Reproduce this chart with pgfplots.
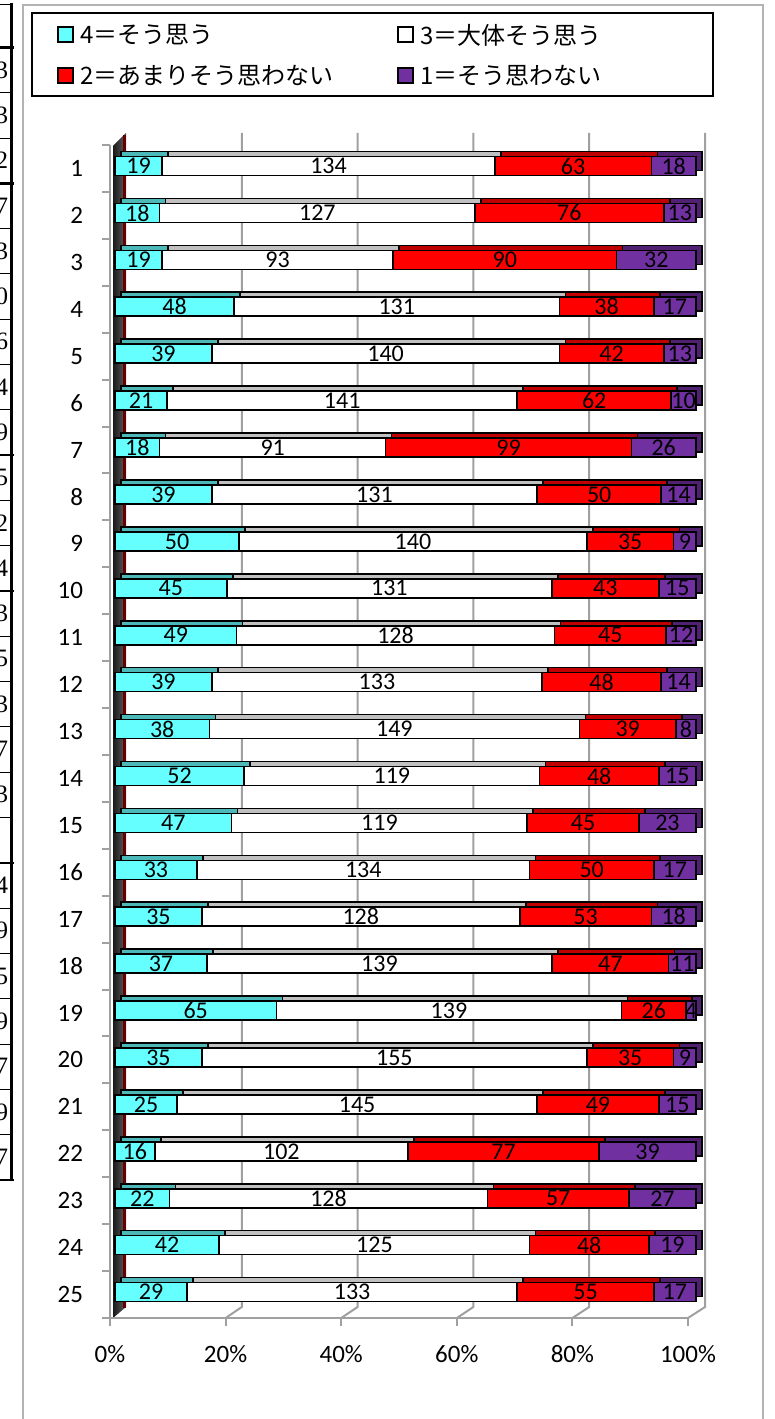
\documentclass[border=0pt]{standalone}
\usepackage{fontspec}
\setmainfont{Carlito}
\newfontfamily\jp{Noto Sans CJK JP}
\newfontfamily\tblfont{Liberation Serif}
\usepackage{pgfplots}
\pgfplotsset{compat=1.18}
\usepackage{pgfplotstable}

\definecolor{cyanf}{HTML}{66FFFF}
\definecolor{cyant}{HTML}{4CB8B8}
\definecolor{whitet}{HTML}{C0C0C0}
\definecolor{redf}{HTML}{FF0000}
\definecolor{redt}{HTML}{C00000}
\definecolor{purf}{HTML}{7030A0}
\definecolor{purt}{HTML}{4F2170}
\definecolor{gridg}{HTML}{A0A0A0}

% answers per item: a = 4, b = 3, c = 2, d = 1
\pgfplotstableread{
r a b c d
1 19 134 63 18
2 18 127 76 13
3 19 93 90 32
4 48 131 38 17
5 39 140 42 13
6 21 141 62 10
7 18 91 99 26
8 39 131 50 14
9 50 140 35 9
10 45 131 43 15
11 49 128 45 12
12 39 133 48 14
13 38 149 39 8
14 52 119 48 15
15 47 119 45 23
16 33 134 50 17
17 35 128 53 18
18 37 139 47 11
19 65 139 26 4
20 35 155 35 9
21 25 145 49 15
22 16 102 77 39
23 22 128 57 27
24 42 125 48 19
25 29 133 55 17
}\survey

\newcommand{\tot}{(\thisrow{a}+\thisrow{b}+\thisrow{c}+\thisrow{d})}
\newcommand{\lab}{\fontsize{12}{14}\selectfont}
\newcommand{\ticklab}{\fontsize{12.5}{15}\selectfont}
\newcommand{\leg}{\jp\fontsize{12}{14}\selectfont}

\pgfplotsset{
  barbase/.style={
    scale only axis, width=290.5pt, height=586.5pt,
    xmin=0, xmax=100, ymin=0.5, ymax=25.5, y dir=reverse,
    hide axis, clip=false, anchor=north west,
  },
  seg/.style={draw=black, line width=0.8pt, fill=#1},
  numlab/.style={draw=none, mark=none, nodes near coords,
    point meta=explicit symbolic,
    every node near coord/.append style={anchor=center, font=\lab, inner sep=0pt}},
}

\begin{document}
\begin{tikzpicture}
\useasboundingbox (0,0) rectangle (387.5pt,709.5pt);

\begin{scope}[shift={(0pt,709.5pt)}, x=0.5pt, y=-0.5pt]
  % cut-off table at the left edge
  \foreach \k/\d in {0/3,1/3,2/2,3/7,4/3,5/0,6/6,7/4,8/9,9/5,10/2,11/4,12/3,
                     13/5,14/3,15/7,16/3,18/4,19/9,20/5,21/9,22/7,23/9,24/7}
    \node[anchor=east, inner sep=0pt, font=\tblfont\fontsize{12.5}{14}\selectfont]
      at (8.5,{70+45.3*\k}) {\d};
  \foreach \k in {0,...,25}
    \draw[black, line width=0.5pt] (0,{47.5+45.3*\k}) -- (12,{47.5+45.3*\k});
  \foreach \k in {0,3,9,12,18,25}
    \draw[black, line width=1.2pt] (0,{47.5+45.3*\k}) -- (14,{47.5+45.3*\k});
  \draw[black, line width=0.5pt] (0,5) -- (12,5);
  \draw[black, line width=1.5pt] (11.5,3) -- (11.5,1181);

  % chart area border
  \draw[gridg!80, line width=1pt] (23,1425) -- (23,5) -- (763,5) -- (763,1425);

  % legend
  \draw[black, line width=0.8pt, fill=white] (32,13) rectangle (713,96);
  \draw[black, line width=0.6pt, fill=cyanf] (58,27) rectangle (73,42);
  \node[anchor=west, inner sep=0pt] at (80,35) {\leg 4＝そう思う};
  \draw[black, line width=0.6pt, fill=white] (398,27) rectangle (413,42);
  \node[anchor=west, inner sep=0pt] at (420,35) {\leg 3＝大体そう思う};
  \draw[black, line width=0.6pt, fill=redf] (58,68) rectangle (73,83);
  \node[anchor=west, inner sep=0pt] at (80,76) {\leg 2＝あまりそう思わない};
  \draw[black, line width=0.6pt, fill=purf] (398,68) rectangle (413,83);
  \node[anchor=west, inner sep=0pt] at (420,76) {\leg 1＝そう思わない};

  % back wall grid and floor
  \foreach \k in {1,...,5}
    \draw[gridg, line width=1pt] ({126+115.8*\k},133) -- ({126+115.8*\k},1307)
      -- ({110+115.6*\k},1318);
  % category boundary ticks on the left axis
  \foreach \k in {0,...,25}
    \draw[gridg, line width=1pt] (102,{145+46.92*\k}) -- (110,{145+46.92*\k});
  % left wall
  \shade[left color=black!90, right color=gray!75!black] (113,1318) -- (126,1307)
    -- (126,133) -- (113,146) -- cycle;
  \draw[red!40!black, line width=1.2pt] (124.5,1308) -- (124.5,135);
\end{scope}

% front frame: axis lines, ticks and labels
\begin{axis}[
  scale only axis, width=289pt, height=586.5pt,
  at={(55pt,637pt)}, anchor=north west,
  xmin=0, xmax=100, ymin=0.5, ymax=25.5, y dir=reverse,
  axis x line*=bottom, axis y line*=left,
  axis line style={gridg, line width=1pt},
  tick align=outside, tick style={gridg, line width=1pt},
  major tick length=4pt,
  xtick={0,20,...,100}, xticklabels={0\%,20\%,40\%,60\%,80\%,100\%},
  ytick={1,...,25}, ytick style={draw=none},
  /pgf/number format/assume math mode=true,
  tick label style={font=\ticklab, black},
  xticklabel style={yshift=-6pt},
  yticklabel style={xshift=-6pt},
]
\end{axis}

% depth faces: the same bars, shifted back
\begin{axis}[barbase, xbar stacked, bar width=9.5pt, at={(60.5pt,640.73pt)}]
  \addplot[seg=cyant]  table[x expr=100*\thisrow{a}/\tot, y=r] {\survey};
  \addplot[seg=whitet] table[x expr=100*\thisrow{b}/\tot, y=r] {\survey};
  \addplot[seg=redt]   table[x expr=100*\thisrow{c}/\tot, y=r] {\survey};
  \addplot[seg=purt]   table[x expr=100*\thisrow{d}/\tot, y=r] {\survey};
\end{axis}

% front faces
\begin{axis}[barbase, xbar stacked, bar width=9.5pt, at={(57.5pt,638.23pt)}]
  \addplot[seg=cyanf] table[x expr=100*\thisrow{a}/\tot, y=r] {\survey};
  \addplot[seg=white] table[x expr=100*\thisrow{b}/\tot, y=r] {\survey};
  \addplot[seg=redf]  table[x expr=100*\thisrow{c}/\tot, y=r] {\survey};
  \addplot[seg=purf]  table[x expr=100*\thisrow{d}/\tot, y=r] {\survey};
\end{axis}

% value labels in the middle of each segment
\begin{axis}[barbase, at={(57.5pt,638.23pt)}]
  \addplot[numlab] table[x expr=50*\thisrow{a}/\tot, y=r, meta=a] {\survey};
  \addplot[numlab] table[x expr=100*(\thisrow{a}+\thisrow{b}/2)/\tot, y=r, meta=b] {\survey};
  \addplot[numlab] table[x expr=100*(\thisrow{a}+\thisrow{b}+\thisrow{c}/2)/\tot, y=r, meta=c] {\survey};
  \addplot[numlab] table[x expr=100*(\thisrow{a}+\thisrow{b}+\thisrow{c}+\thisrow{d}/2)/\tot, y=r, meta=d] {\survey};
\end{axis}
\end{tikzpicture}
\end{document}
